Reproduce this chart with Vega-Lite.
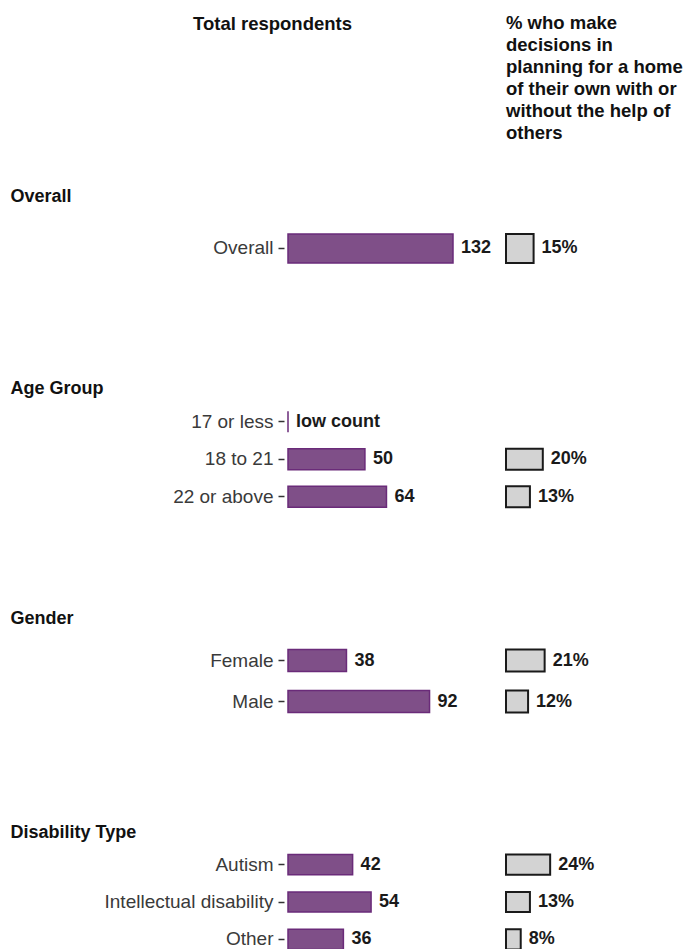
{
  "$schema": "https://vega.github.io/schema/vega-lite/v6.json",
  "padding": {"left": 10, "top": 13, "right": 0, "bottom": 0},
  "background": "white",
  "config": {
    "font": "Liberation Sans",
    "view": {"stroke": null},
    "axisY": {
      "domain": false, "grid": false, "ticks": true, "tickSize": 6, "tickWidth": 1.5, "tickColor": "#333333",
      "labelFontSize": 19, "labelColor": "#3a3a3a", "labelPadding": 5, "labelLimit": 0, "offset": 4,
      "titleAngle": 0, "titleAlign": "left", "titleBaseline": "middle", "titleFontSize": 18,
      "titleFontWeight": "bold", "titleColor": "#111111", "titleX": -274
    },
    "title": {"fontSize": 18.5, "fontWeight": "bold", "color": "#111111", "anchor": "start", "frame": "group"}
  },
  "data": {"values": [
    {"section": "Overall", "group": "Overall", "count": 132, "count_label": "132", "pct": 15, "pct_label": "15%"},
    {"section": "Age Group", "group": "17 or less", "count": 0, "count_label": "low count", "pct": null, "pct_label": null},
    {"section": "Age Group", "group": "18 to 21", "count": 50, "count_label": "50", "pct": 20, "pct_label": "20%"},
    {"section": "Age Group", "group": "22 or above", "count": 64, "count_label": "64", "pct": 13, "pct_label": "13%"},
    {"section": "Gender", "group": "Female", "count": 38, "count_label": "38", "pct": 21, "pct_label": "21%"},
    {"section": "Gender", "group": "Male", "count": 92, "count_label": "92", "pct": 12, "pct_label": "12%"},
    {"section": "Disability Type", "group": "Autism", "count": 42, "count_label": "42", "pct": 24, "pct_label": "24%"},
    {"section": "Disability Type", "group": "Intellectual disability", "count": 54, "count_label": "54", "pct": 13, "pct_label": "13%"},
    {"section": "Disability Type", "group": "Other", "count": 36, "count_label": "36", "pct": 8, "pct_label": "8%"}
  ]},
  "columns": 2,
  "bounds": "flush",
  "spacing": {"row": 124, "column": 18},
  "resolve": {"scale": {"x": "independent", "y": "independent"}},
  "concat": [
    {
      "width": 200, "height": 45,
      "title": {"text": "Total respondents", "dx": -95, "offset": 154},
      "transform": [{"filter": "datum.section === 'Overall'"}],
      "encoding": {"y": {"field": "group", "type": "nominal", "sort": null,
        "scale": {"domain": ["Overall"], "paddingInner": 0, "paddingOuter": 0.276, "align": 0},
        "axis": {"title": "Overall", "titleY": -38}}},
      "layer": [
        {"mark": {"type": "bar", "fill": "#7f4f88", "stroke": "#6a2b79", "strokeWidth": 1.5},
         "encoding": {"x": {"field": "count", "type": "quantitative", "scale": {"domain": [0, 160]}, "axis": null}}},
        {"mark": {"type": "text", "align": "left", "baseline": "middle", "dx": 8, "fontSize": 18, "fontWeight": "bold", "color": "#1a1a1a"},
         "encoding": {"x": {"field": "count", "type": "quantitative"}, "text": {"field": "count_label"}}}
      ]
    },
    {
      "width": 92, "height": 45,
      "title": {"text": ["% who make", "decisions in", "planning for a home", "of their own with or", "without the help of", "others"], "lineHeight": 22, "offset": 91},
      "transform": [{"filter": "datum.section === 'Overall'"}],
      "encoding": {"y": {"field": "group", "type": "nominal", "sort": null,
        "scale": {"domain": ["Overall"], "paddingInner": 0, "paddingOuter": 0.276, "align": 0}, "axis": null}},
      "layer": [
        {"mark": {"type": "bar", "fill": "#d3d3d3", "stroke": "#1a1a1a", "strokeWidth": 2},
         "encoding": {"x": {"field": "pct", "type": "quantitative", "scale": {"domain": [0, 50]}, "axis": null}}},
        {"mark": {"type": "text", "align": "left", "baseline": "middle", "dx": 8, "fontSize": 18, "fontWeight": "bold", "color": "#1a1a1a"},
         "encoding": {"x": {"field": "pct", "type": "quantitative"}, "text": {"field": "pct_label"}}}
      ]
    },
    {
      "width": 200, "height": 112.5,
      "transform": [{"filter": "datum.section === 'Age Group'"}],
      "encoding": {"y": {"field": "group", "type": "nominal", "sort": null,
        "scale": {"domain": ["17 or less", "18 to 21", "22 or above"], "paddingInner": 0.44, "paddingOuter": 0.22},
        "axis": {"title": "Age Group", "titleY": -15}}},
      "layer": [
        {"mark": {"type": "bar", "fill": "#7f4f88", "stroke": "#6a2b79", "strokeWidth": 1.5},
         "encoding": {"x": {"field": "count", "type": "quantitative", "scale": {"domain": [0, 124]}, "axis": null}}},
        {"mark": {"type": "text", "align": "left", "baseline": "middle", "dx": 8, "fontSize": 18, "fontWeight": "bold", "color": "#1a1a1a"},
         "encoding": {"x": {"field": "count", "type": "quantitative"}, "text": {"field": "count_label"}}}
      ]
    },
    {
      "width": 92, "height": 112.5,
      "transform": [{"filter": "datum.section === 'Age Group'"}],
      "encoding": {"y": {"field": "group", "type": "nominal", "sort": null,
        "scale": {"domain": ["17 or less", "18 to 21", "22 or above"], "paddingInner": 0.44, "paddingOuter": 0.22}, "axis": null}},
      "layer": [
        {"mark": {"type": "bar", "fill": "#d3d3d3", "stroke": "#1a1a1a", "strokeWidth": 2},
         "encoding": {"x": {"field": "pct", "type": "quantitative", "scale": {"domain": [0, 50]}, "axis": null}}},
        {"mark": {"type": "text", "align": "left", "baseline": "middle", "dx": 8, "fontSize": 18, "fontWeight": "bold", "color": "#1a1a1a"},
         "encoding": {"x": {"field": "pct", "type": "quantitative"}, "text": {"field": "pct_label"}}}
      ]
    },
    {
      "width": 200, "height": 82,
      "transform": [{"filter": "datum.section === 'Gender'"}],
      "encoding": {"y": {"field": "group", "type": "nominal", "sort": null,
        "scale": {"domain": ["Female", "Male"], "paddingInner": 0.46, "paddingOuter": 0.23},
        "axis": {"title": "Gender", "titleY": -22}}},
      "layer": [
        {"mark": {"type": "bar", "fill": "#7f4f88", "stroke": "#6a2b79", "strokeWidth": 1.5},
         "encoding": {"x": {"field": "count", "type": "quantitative", "scale": {"domain": [0, 124]}, "axis": null}}},
        {"mark": {"type": "text", "align": "left", "baseline": "middle", "dx": 8, "fontSize": 18, "fontWeight": "bold", "color": "#1a1a1a"},
         "encoding": {"x": {"field": "count", "type": "quantitative"}, "text": {"field": "count_label"}}}
      ]
    },
    {
      "width": 92, "height": 82,
      "transform": [{"filter": "datum.section === 'Gender'"}],
      "encoding": {"y": {"field": "group", "type": "nominal", "sort": null,
        "scale": {"domain": ["Female", "Male"], "paddingInner": 0.46, "paddingOuter": 0.23}, "axis": null}},
      "layer": [
        {"mark": {"type": "bar", "fill": "#d3d3d3", "stroke": "#1a1a1a", "strokeWidth": 2},
         "encoding": {"x": {"field": "pct", "type": "quantitative", "scale": {"domain": [0, 50]}, "axis": null}}},
        {"mark": {"type": "text", "align": "left", "baseline": "middle", "dx": 8, "fontSize": 18, "fontWeight": "bold", "color": "#1a1a1a"},
         "encoding": {"x": {"field": "pct", "type": "quantitative"}, "text": {"field": "pct_label"}}}
      ]
    },
    {
      "width": 200, "height": 112,
      "transform": [{"filter": "datum.section === 'Disability Type'"}],
      "encoding": {"y": {"field": "group", "type": "nominal", "sort": null,
        "scale": {"domain": ["Autism", "Intellectual disability", "Other"], "paddingInner": 0.46, "paddingOuter": 0.23},
        "axis": {"title": "Disability Type", "titleY": -14}}},
      "layer": [
        {"mark": {"type": "bar", "fill": "#7f4f88", "stroke": "#6a2b79", "strokeWidth": 1.5},
         "encoding": {"x": {"field": "count", "type": "quantitative", "scale": {"domain": [0, 124]}, "axis": null}}},
        {"mark": {"type": "text", "align": "left", "baseline": "middle", "dx": 8, "fontSize": 18, "fontWeight": "bold", "color": "#1a1a1a"},
         "encoding": {"x": {"field": "count", "type": "quantitative"}, "text": {"field": "count_label"}}}
      ]
    },
    {
      "width": 92, "height": 112,
      "transform": [{"filter": "datum.section === 'Disability Type'"}],
      "encoding": {"y": {"field": "group", "type": "nominal", "sort": null,
        "scale": {"domain": ["Autism", "Intellectual disability", "Other"], "paddingInner": 0.46, "paddingOuter": 0.23}, "axis": null}},
      "layer": [
        {"mark": {"type": "bar", "fill": "#d3d3d3", "stroke": "#1a1a1a", "strokeWidth": 2},
         "encoding": {"x": {"field": "pct", "type": "quantitative", "scale": {"domain": [0, 50]}, "axis": null}}},
        {"mark": {"type": "text", "align": "left", "baseline": "middle", "dx": 8, "fontSize": 18, "fontWeight": "bold", "color": "#1a1a1a"},
         "encoding": {"x": {"field": "pct", "type": "quantitative"}, "text": {"field": "pct_label"}}}
      ]
    }
  ]
}
